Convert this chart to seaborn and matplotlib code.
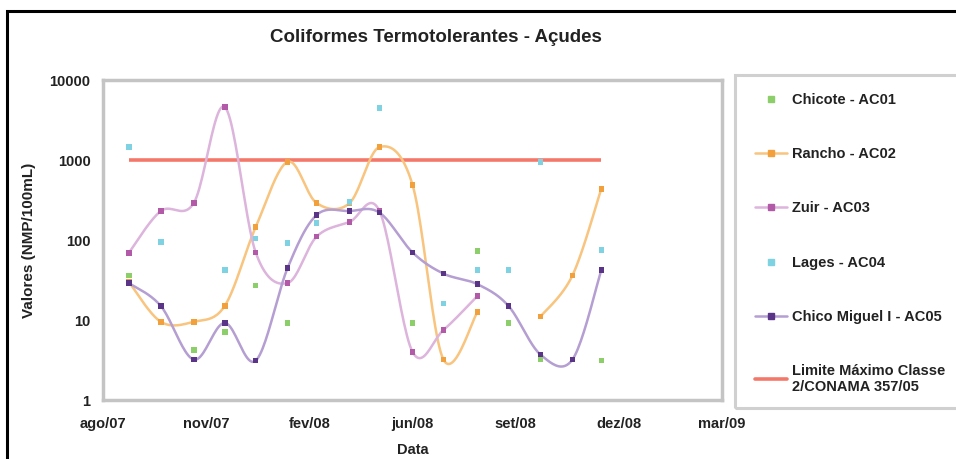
import numpy as np
import pandas as pd
import matplotlib
matplotlib.use("Agg")
import matplotlib.pyplot as plt
from matplotlib.lines import Line2D
from matplotlib.patches import Rectangle
import seaborn as sns

# -----------------------------
# Dados (NMP/100mL) - coletas mensais nos acudes
# -----------------------------
inicio_eixo = pd.Timestamp("2007-08-08")
datas = ["2007-09-02", "2007-10-03", "2007-11-04", "2007-12-04", "2008-01-03",
         "2008-02-03", "2008-03-02", "2008-04-03", "2008-05-02", "2008-06-03",
         "2008-07-03", "2008-08-05", "2008-09-04", "2008-10-05", "2008-11-05",
         "2008-12-03"]
nan = np.nan
chicote = [36, nan, 4.2, 7.1, 27, 9.2, nan, nan, nan, 9.2, nan, 73, 9.2, 3.2, nan, 3.1]
rancho = [30, 9.5, 9.5, 15, 145, 950, 290, 290, 1450, 490, 3.2, 12.6, nan, 11, 36, 435]
zuir = [69, 230, 290, 4600, 70, 29, 110, 168, 230, 4.0, 7.5, 20, nan, nan, nan, nan]
lages = [1450, 94, nan, 42, 105, 92, 163, 300, 4500, nan, 16, 42, 42, 940, nan, 75]
chico_miguel = [29, 15, 3.2, 9.2, 3.1, 45, 205, 230, 220, 70, 38, 28, 15, 3.7, 3.2, 42]
limite = 1000

nomes = ["Chicote - AC01", "Rancho - AC02", "Zuir - AC03", "Lages - AC04",
         "Chico Miguel I - AC05"]
series = [chicote, rancho, zuir, lages, chico_miguel]
com_linha = [False, True, True, False, True]
cor_marcador = ["#8ccf6a", "#f2a03c", "#b25aa8", "#7fd2e2", "#5a3587"]
cor_linha = [None, "#f8c47e", "#dcb4dc", None, "#b49ed2"]
cor_limite = "#f4786a"

rotulos_x = ["ago/07", "nov/07", "fev/08", "jun/08", "set/08", "dez/08", "mar/09"]
rotulos_y = ["1", "10", "100", "1000", "10000"]

dias = (pd.to_datetime(datas) - inicio_eixo).days.values.astype(float)


def suaviza(x, y, n=24):
    # linha suavizada (Catmull-Rom em escala log), parecida com a do Excel
    ly = np.log10(y)
    t = np.linspace(0, 1, n)
    xs, ys = [], []
    for i in range(len(x) - 1):
        p0 = max(i - 1, 0)
        p3 = min(i + 2, len(x) - 1)
        for arr, out in ((x, xs), (ly, ys)):
            a0, a1, a2, a3 = arr[p0], arr[i], arr[i + 1], arr[p3]
            out.extend(0.5 * (2 * a1 + (-a0 + a2) * t
                              + (2 * a0 - 5 * a1 + 4 * a2 - a3) * t ** 2
                              + (-a0 + 3 * a1 - 3 * a2 + a3) * t ** 3))
    return np.array(xs), 10 ** np.array(ys)


# tabela longa com os pontos
pontos = []
curvas = []
for nome, vals, linha in zip(nomes, series, com_linha):
    v = np.array(vals, dtype=float)
    for d, val in zip(dias, v):
        if not np.isnan(val):
            pontos.append({"dia": d, "valor": val, "serie": nome})
    if linha:
        # quebra a linha onde falta coleta
        ok = ~np.isnan(v)
        trecho = 0
        i = 0
        while i < len(v):
            if ok[i]:
                j = i
                while j < len(v) and ok[j]:
                    j += 1
                if j - i > 1:
                    xs, ys = suaviza(dias[i:j], v[i:j])
                    for a, b in zip(xs, ys):
                        curvas.append({"dia": a, "valor": b, "serie": nome, "trecho": trecho})
                    trecho += 1
                i = j
            else:
                i += 1
df_pontos = pd.DataFrame(pontos)
df_curvas = pd.DataFrame(curvas)

# -----------------------------
# Grafico
# -----------------------------
sns.set_style("white")
plt.rcParams["font.family"] = ["Liberation Sans", "DejaVu Sans"]

fig = plt.figure(figsize=(9.56, 4.59), dpi=100)
ax = fig.add_axes([103 / 956, 1 - 400 / 459, (722 - 103) / 956, (400 - 80) / 459])

ax.hlines(limite, dias[0], dias[-1], color=cor_limite, lw=2.6, zorder=1)

pal_linha = {n: c for n, c, l in zip(nomes, cor_linha, com_linha) if l}
sns.lineplot(data=df_curvas, x="dia", y="valor", hue="serie", units="trecho",
             estimator=None, sort=False, palette=pal_linha, lw=1.8,
             legend=False, ax=ax, zorder=2)
sns.scatterplot(data=df_pontos, x="dia", y="valor", hue="serie",
                palette=dict(zip(nomes, cor_marcador)), marker="s", s=16,
                linewidth=0, legend=False, ax=ax, zorder=3)

ax.set_yscale("log")
ax.set_ylim(1, 10000)
ax.set_xlim(0, 600)
ax.set_yticks([1, 10, 100, 1000, 10000])
ax.set_yticklabels(rotulos_y)
ax.minorticks_off()
ax.set_xticks(np.arange(0, 601, 100))
ax.set_xticklabels(rotulos_x)
ax.tick_params(axis="y", length=0, pad=9, labelsize=10.5, labelcolor="#222222")
ax.tick_params(axis="x", length=0, pad=12, labelsize=10.5, labelcolor="#222222")
for lab in ax.get_xticklabels() + ax.get_yticklabels():
    lab.set_fontweight("bold")
for s in ax.spines.values():
    s.set_color("#c4c4c4")
    s.set_linewidth(2.5)

ax.set_xlabel("Data", fontsize=10.5, fontweight="bold", color="#222222", labelpad=9)
ax.set_ylabel("Valores (NMP/100mL)", fontsize=11, fontweight="bold", color="#222222",
              labelpad=10)
fig.text(436 / 956, 1 - 38 / 459, "Coliformes Termotolerantes - Açudes",
         ha="center", va="center", fontsize=13.5, fontweight="bold", color="#222222")

# caixa da legenda e borda externa
fig.patches.append(Rectangle((735 / 956, 1 - 408 / 459), 0.3, (408 - 75) / 459,
                             transform=fig.transFigure, fill=False,
                             edgecolor="#d0d0d0", lw=2.2))
fig.patches.append(Rectangle((7 / 956, -0.1), 1.2, 1.1 - 11 / 459,
                             transform=fig.transFigure, fill=False,
                             edgecolor="black", lw=2.2))

handles = []
for nome, linha, cm, cl in zip(nomes, com_linha, cor_marcador, cor_linha):
    handles.append(Line2D([], [], color=cl if linha else "none", lw=1.8,
                          marker="s", markersize=4, markerfacecolor=cm,
                          markeredgecolor=cm, label=nome))
handles.append(Line2D([], [], color=cor_limite, lw=2.6,
                      label="Limite Máximo Classe\n2/CONAMA 357/05"))
fig.legend(handles=handles, loc="upper left",
           bbox_to_anchor=(748 / 956, 1 - 86 / 459), frameon=False,
           prop={"weight": "bold", "size": 10.5}, labelcolor="#222222",
           labelspacing=2.75, handlelength=2.2, handletextpad=0.3, borderpad=0)

fig.savefig("out.png", dpi=100)
